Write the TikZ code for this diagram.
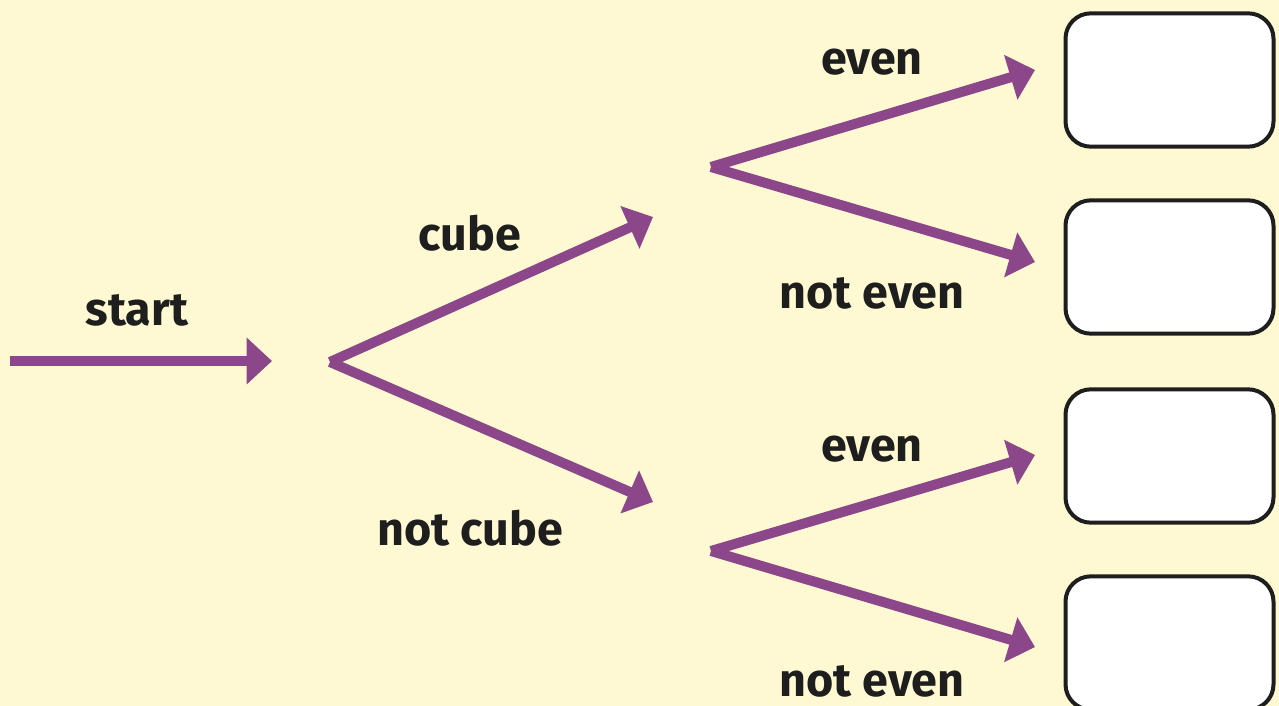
\documentclass[tikz,border=0pt]{standalone}
\usepackage{fontspec}
\setmainfont{Fira Sans}
\usetikzlibrary{arrows.meta}
\definecolor{bg}{RGB}{255,249,211}
\definecolor{pur}{RGB}{139,71,137}
\definecolor{ink}{RGB}{30,30,30}
\begin{document}
\begin{tikzpicture}[x=0.75pt,y=-0.75pt,
  arr/.style={draw=pur,line width=7.5pt,-{Triangle[length=19pt,width=34pt]}},
  lbl/.style={text=ink,font=\fontsize{35}{38}\selectfont\bfseries,inner sep=0pt},
  box/.style={draw=ink,line width=3pt,fill=white,rounded corners=19pt,minimum width=156pt,minimum height=100pt,inner sep=0pt}]
\fill[bg] (0,0) rectangle (1279,706);
\useasboundingbox (0,0) rectangle (1279,706);
\begin{scope}
\clip (0,0) rectangle (1279,706);
\node[box] (b1) at (1169.5,80) {};
\node[box] (b2) at (1169.5,267) {};
\node[box] (b3) at (1169.5,456) {};
\node[box] (b4) at (1169.5,643) {};
\end{scope}
\coordinate (s0) at (10,361);
\coordinate (s1) at (272,361);
\coordinate (a) at (330,362);
\coordinate (c1) at (653,217);
\coordinate (c2) at (653,502);
\coordinate (u) at (711,167);
\coordinate (u1) at (1035,70);
\coordinate (u2) at (1035,262);
\coordinate (d) at (711,551);
\coordinate (d1) at (1035,455);
\coordinate (d2) at (1035,647);
\draw[arr] (s0) -- (s1);
\draw[arr] (a) -- (c1);
\draw[arr] (a) -- (c2);
\draw[arr] (u) -- (u1);
\draw[arr] (u) -- (u2);
\draw[arr] (d) -- (d1);
\draw[arr] (d) -- (d2);
\node[lbl] (tstart) at (137,310) {start};
\node[lbl] (tcube) at (470,233) {cube};
\node[lbl] (tncube) at (470,528) {not cube};
\node[lbl] (te1) at (872,62) {even};
\node[lbl] (tne1) at (872,293) {not even};
\node[lbl] (te2) at (872,449) {even};
\node[lbl] (tne2) at (872,681) {not even};
\end{tikzpicture}
\end{document}
